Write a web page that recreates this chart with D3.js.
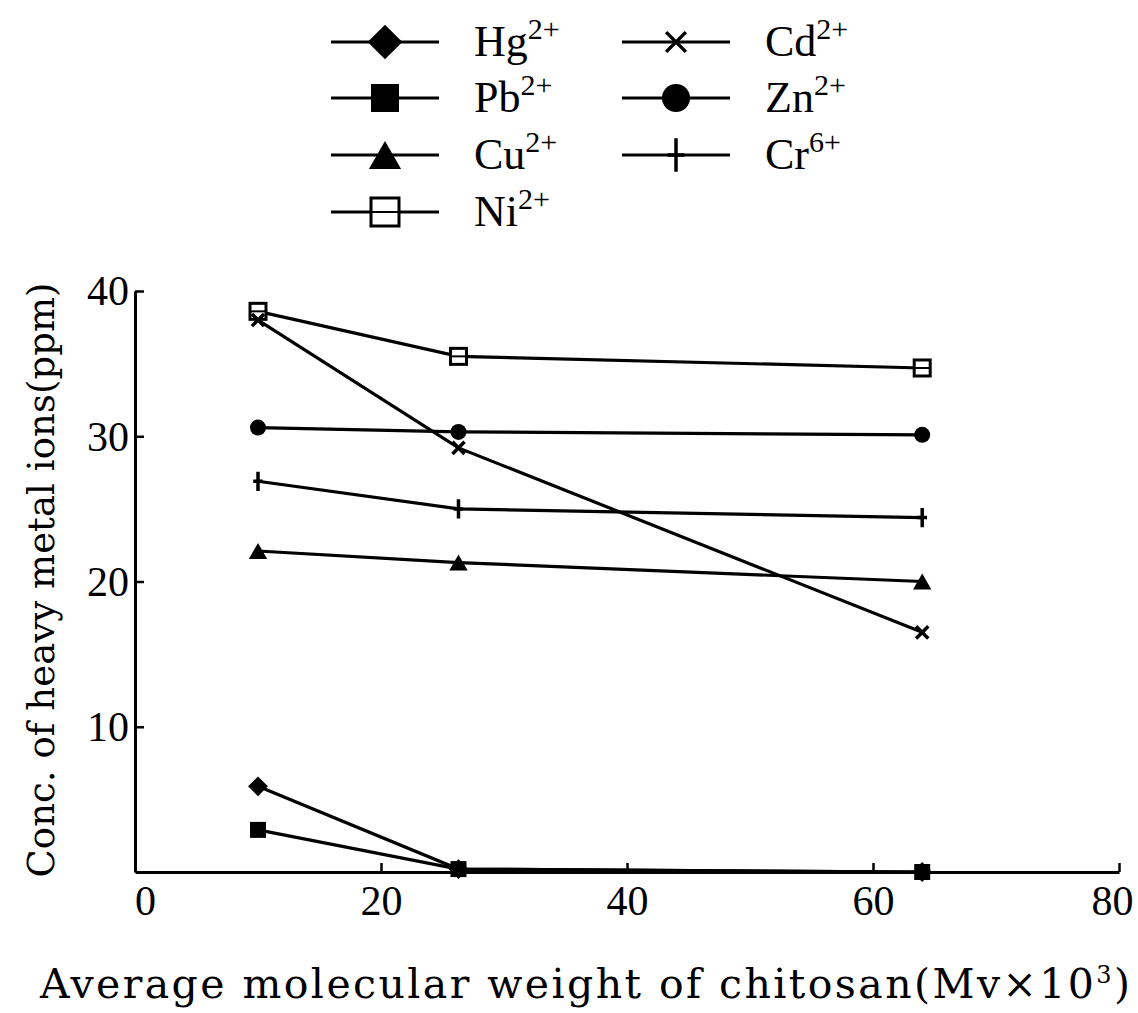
<!DOCTYPE html>
<html>
<head>
<meta charset="utf-8">
<script src="https://cdn.jsdelivr.net/npm/d3@7"></script>
<style>
  body { margin: 0; background: #fff; }
  svg { display: block; font-family: "DejaVu Serif", "Liberation Serif", serif; }
</style>
</head>
<body>
<svg id="chart" width="1138" height="1013"></svg>
<script>
// molecular weight (Mv x 10^3) of the three chitosan samples
const mw = [10, 26.3, 64];

const ions   = ['Hg', 'Pb', 'Cu', 'Ni', 'Cd', 'Zn', 'Cr'];
const charge = ['2+', '2+', '2+', '2+', '2+', '2+', '6+'];

const hg = [5.9, 0.2, 0];
const pb = [2.9, 0.2, 0];
const cu = [22.1, 21.3, 20.0];
const ni = [38.6, 35.5, 34.7];
const cd = [38.0, 29.2, 16.5];
const zn = [30.6, 30.3, 30.1];
const cr = [26.9, 25.0, 24.4];

const xTicks = [0, 20, 40, 60, 80];
const yTicks = [10, 20, 30, 40];

const series = [hg, pb, cu, ni, cd, zn, cr];

const svg = d3.select('#chart');
const INK = '#000';

const x = d3.scaleLinear().domain([0, 80]).range([135, 1119]);
const y = d3.scaleLinear().domain([0, 40]).range([872, 291]);

// axes: inner ticks, serif labels
const gx = svg.append('g').attr('transform', `translate(0,${y(0)})`)
    .call(d3.axisBottom(x).tickValues(xTicks).tickSizeInner(-9).tickSizeOuter(0).tickPadding(18));
const gy = svg.append('g').attr('transform', `translate(${x(0)},0)`)
    .call(d3.axisLeft(y).tickValues(yTicks).tickSizeInner(-9).tickSizeOuter(0).tickPadding(6));

[gx, gy].forEach(g => {
    g.select('.domain').attr('stroke', INK).attr('stroke-width', 3);
    g.selectAll('.tick line').attr('stroke', INK).attr('stroke-width', 2.5);
    g.selectAll('.tick text')
        .attr('fill', INK)
        .style('font-family', '"Liberation Serif", serif')
        .style('font-size', '42px');
});
gx.selectAll('.tick text').attr('dy', '0.6em')
    .attr('dx', d => d === 0 ? 10 : d === 80 ? -7 : 0);
gy.selectAll('.tick text').attr('dy', '0.33em');

// axis titles
const xt = svg.append('text')
    .attr('x', 40).attr('y', 998)
    .attr('textLength', 1090).attr('lengthAdjust', 'spacing')
    .style('font-size', '41px')
    .text('Average molecular weight of chitosan(Mv\u00d710');
xt.append('tspan').attr('dy', -15).style('font-size', '24px').text('3');
xt.append('tspan').attr('dy', 15).style('font-size', '41px').text(')');

svg.append('text')
    .attr('transform', 'translate(54,580) rotate(-90)')
    .attr('text-anchor', 'middle')
    .attr('textLength', 595).attr('lengthAdjust', 'spacing')
    .style('font-size', '37px')
    .text('Conc. of heavy metal ions(ppm)');

// marker drawing
function marker(g, i, s) {
    const name = ions[i];
    if (name === 'Hg') {
        const h = s * 0.62;
        g.append('path').attr('d', `M0,${-h}L${h},0L0,${h}L${-h},0Z`).attr('fill', INK);
    } else if (name === 'Pb') {
        g.append('rect').attr('x', -s / 2).attr('y', -s / 2).attr('width', s).attr('height', s).attr('fill', INK);
    } else if (name === 'Cu') {
        const h = s * 0.5;
        g.append('path').attr('d', `M0,${-h}L${h * 1.15},${h}L${-h * 1.15},${h}Z`).attr('fill', INK);
    } else if (name === 'Ni') {
        g.append('rect').attr('x', -s / 2).attr('y', -s / 2).attr('width', s).attr('height', s)
            .attr('fill', '#fff').attr('stroke', INK).attr('stroke-width', 3);
        g.append('line').attr('x1', -s / 2).attr('x2', s / 2).attr('stroke', INK).attr('stroke-width', 2);
    } else if (name === 'Cd') {
        const h = s * 0.38;
        g.append('path').attr('d', `M${-h},${-h}L${h},${h}M${-h},${h}L${h},${-h}`)
            .attr('stroke', INK).attr('stroke-width', 3.5);
    } else if (name === 'Zn') {
        g.append('circle').attr('r', s / 2).attr('fill', INK);
    } else if (name === 'Cr') {
        const h = s * 0.6;
        g.append('path').attr('d', `M0,${-h}L0,${h}M${-h * 0.5},0L${h * 0.5},0`)
            .attr('stroke', INK).attr('stroke-width', 3.5);
    }
}

// series lines
const line = d3.line().x((d, i) => x(mw[i])).y(d => y(d));
const gLines = svg.append('g');
series.forEach(vals => {
    gLines.append('path')
        .datum(vals)
        .attr('d', line)
        .attr('fill', 'none')
        .attr('stroke', INK)
        .attr('stroke-width', 3.2);
});
series.forEach((vals, i) => {
    vals.forEach((v, j) => {
        const g = gLines.append('g').attr('transform', `translate(${x(mw[j])},${y(v)})`);
        marker(g, i, 16);
    });
});

// legend: two columns
const legRows = [42, 98, 155, 212];
const legend = svg.append('g');
ions.forEach((name, i) => {
    const col = i < 4 ? 0 : 1;
    const row = i < 4 ? i : i - 4;
    const lx = col === 0 ? 331 : 622;
    const g = legend.append('g').attr('transform', `translate(${lx},${legRows[row]})`);
    g.append('line').attr('x1', 0).attr('x2', 108).attr('stroke', INK).attr('stroke-width', 3);
    marker(g.append('g').attr('transform', 'translate(54,0)'), i, name === 'Cd' ? 26 : 28);
    const t = g.append('text').attr('x', 143).attr('y', 14)
        .style('font-family', '"Liberation Serif", serif').style('font-size', '44px').text(name);
    t.append('tspan').attr('dy', -17).style('font-size', '30px').text(charge[i]);
});
</script>
</body>
</html>
